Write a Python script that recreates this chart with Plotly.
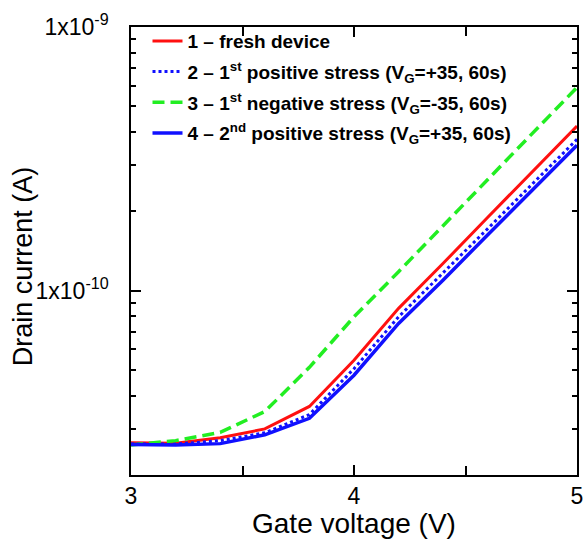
import plotly.graph_objects as go

gate_voltage = [3.0, 3.2, 3.4, 3.6, 3.8, 4.0, 4.2, 4.4, 4.6, 4.8, 5.0]
fresh = [2.65e-11, 2.64e-11, 2.77e-11, 2.99e-11, 3.64e-11, 5.45e-11, 8.57e-11, 1.27e-10, 1.90e-10, 2.83e-10, 4.21e-10]
pos1 = [2.62e-11, 2.62e-11, 2.70e-11, 2.89e-11, 3.39e-11, 5.06e-11, 7.96e-11, 1.165e-10, 1.72e-10, 2.54e-10, 3.75e-10]
neg1 = [2.60e-11, 2.70e-11, 2.90e-11, 3.48e-11, 5.12e-11, 7.96e-11, 1.18e-10, 1.77e-10, 2.64e-10, 3.95e-10, 5.90e-10]
pos2 = [2.61e-11, 2.60e-11, 2.63e-11, 2.84e-11, 3.28e-11, 4.78e-11, 7.51e-11, 1.098e-10, 1.63e-10, 2.40e-10, 3.56e-10]

names = [
    "1 \u2013 fresh device",
    "2 \u2013 1<sup>st</sup> positive stress (V<sub>G</sub>=+35, 60s)",
    "3 \u2013 1<sup>st</sup> negative stress (V<sub>G</sub>=-35, 60s)",
    "4 \u2013 2<sup>nd</sup> positive stress (V<sub>G</sub>=+35, 60s)",
]
series = [fresh, pos1, neg1, pos2]
colors = ["#ff1010", "#1010ff", "#22ee22", "#1010ff"]
dashes = ["solid", "3px,3px", "12px,6px", "solid"]
widths = [3, 3, 3.5, 3.5]

y_major = [1e-10, 1e-9]
y_major_text = ["1x10<sup>-10</sup>", "1x10<sup>-9</sup>"]
y_minor = [k * 1e-11 for k in range(2, 10)] + [k * 1e-10 for k in range(2, 10)]
x_major = [3, 4, 5]
x_minor = [3.5, 4.5]

FONT = "Arial, Liberation Sans"

fig = go.Figure()
for i, (nm, s) in enumerate(zip(names, series)):
    fig.add_trace(go.Scatter(
        x=gate_voltage, y=s, mode="lines", name=nm, legendgroup=str(i),
        line=dict(color=colors[i], dash=dashes[i], width=widths[i]),
    ))

axis_common = dict(
    showline=True, linecolor="black", linewidth=1.5, mirror="ticks",
    ticks="inside", ticklen=10, tickwidth=1.5, tickcolor="black",
    showgrid=False, zeroline=False, automargin=False,
    tickfont=dict(family=FONT, size=23, color="black"),
)

fig.update_xaxes(
    range=[3, 5], tickvals=x_major, ticktext=[str(v) for v in x_major],
    minor=dict(tickvals=x_minor, ticks="inside", ticklen=9, tickwidth=1.5, tickcolor="black"),
    **axis_common,
)
fig.update_yaxes(
    type="log", range=[-10.699, -9],
    tickvals=y_major, ticktext=y_major_text,
    minor=dict(tickvals=y_minor, ticks="inside", ticklen=5, tickwidth=1.5, tickcolor="black"),
    ticklabelstandoff=16,
    **axis_common,
)

fig.add_annotation(
    text="Gate voltage (V)", showarrow=False,
    xref="paper", yref="paper", x=0.5, y=-0.108, xanchor="center", yanchor="middle",
    font=dict(family=FONT, size=28, color="black"),
)
fig.add_annotation(
    text="Drain current (A)", textangle=-90, showarrow=False,
    xref="paper", yref="paper", x=-0.243, y=0.465, xanchor="center", yanchor="middle",
    font=dict(family=FONT, size=27, color="black"),
)

fig.update_layout(
    width=584, height=539, autosize=False,
    margin=dict(l=131, r=7, t=27, b=64, autoexpand=False),
    plot_bgcolor="white", paper_bgcolor="white",
    showlegend=True,
    legend=dict(
        x=0.037, y=1.011, xanchor="left", yanchor="top",
        bgcolor="rgba(0,0,0,0)", borderwidth=0,
        traceorder="grouped", tracegroupgap=3,
        font=dict(family=FONT, size=19, color="black", weight="bold"),
    ),
)

fig.write_html(
    "out.html",
    config={"displayModeBar": False, "responsive": False},
    post_script="document.body.style.margin='0';document.body.style.overflow='hidden';",
)
